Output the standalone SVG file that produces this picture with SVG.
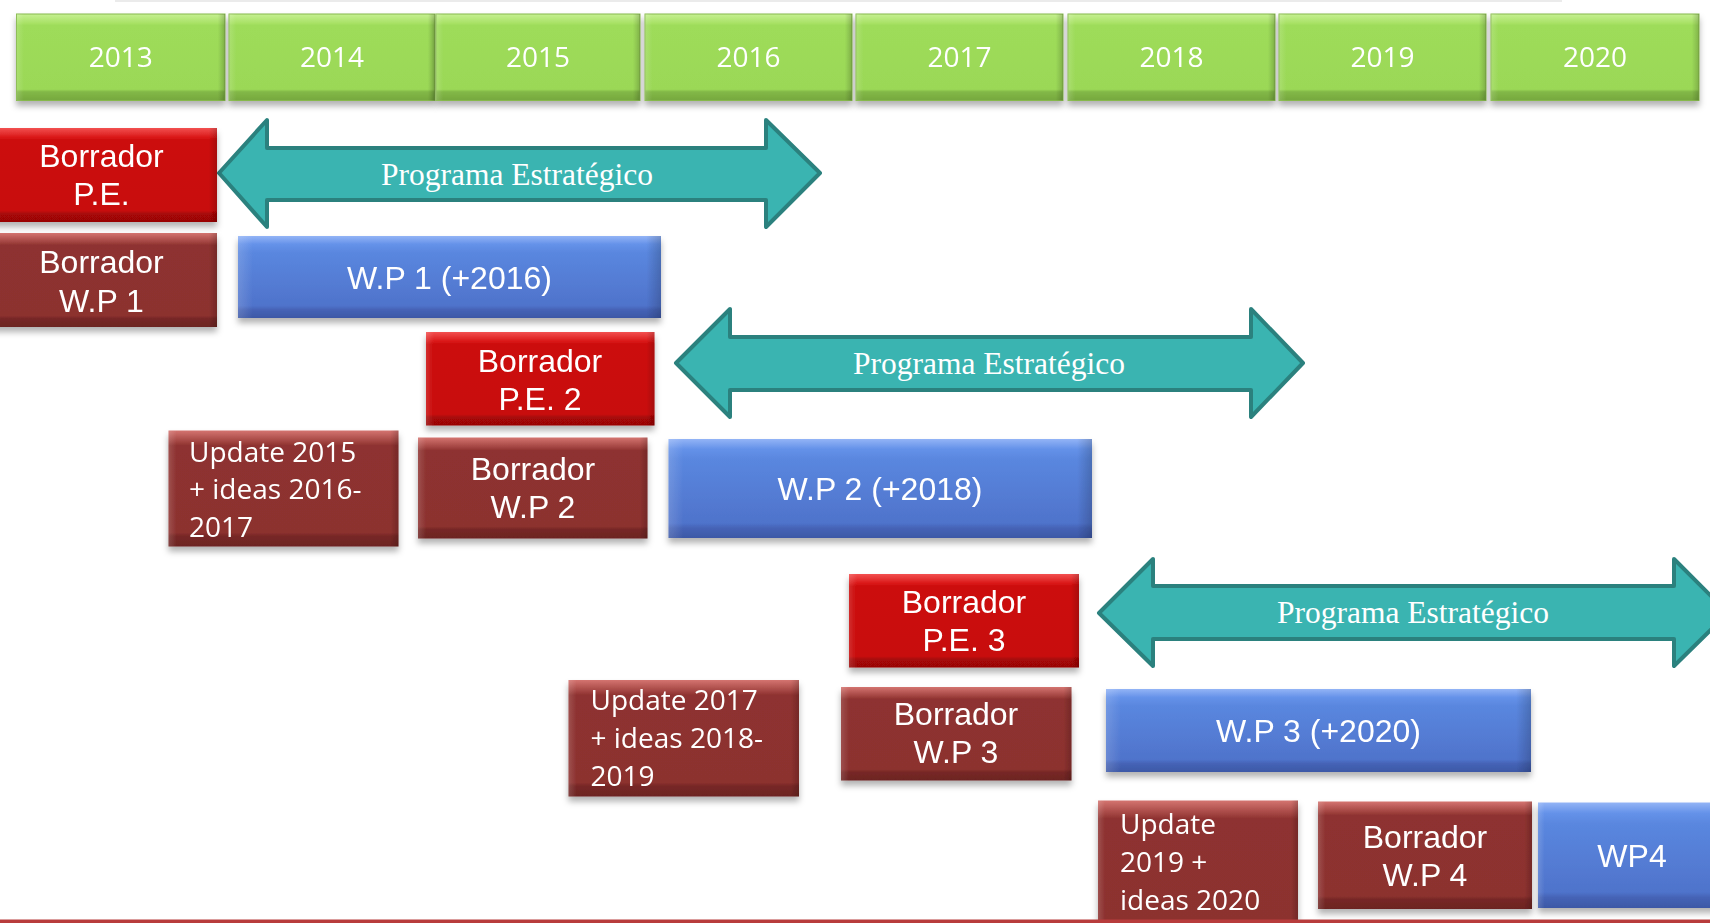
<svg xmlns="http://www.w3.org/2000/svg" width="1710" height="923" viewBox="0 0 1710 923">
<style>
.ar{font-family:"Liberation Sans",Arial,sans-serif;font-size:32px;fill:#fff;text-anchor:middle}
.cal{font-family:"Open Sans","Noto Sans",sans-serif;font-size:28px;fill:#fff}
.yr{text-anchor:middle}
.prog{font-family:"Liberation Serif","Times New Roman",serif;font-size:31.5px;fill:#fff;text-anchor:middle}
.green{fill:url(#gGreen);stroke:#86b84c;stroke-width:1}
.red{fill:url(#gRed)}
.dark{fill:url(#gDark)}
.blue{fill:url(#gBlue)}
.edge{fill:url(#hEdge)}
.arrow{fill:#3ab4b1;stroke:#2b817e;stroke-width:4;stroke-linejoin:round}
.box{filter:url(#sh)}
</style>
<defs>
<filter id="sh" x="-10%" y="-20%" width="120%" height="150%">
<feDropShadow dx="0" dy="5" stdDeviation="3" flood-color="#000" flood-opacity="0.3"/>
</filter>
<linearGradient id="gGreen" x1="0" y1="0" x2="0" y2="1">
<stop offset="0" stop-color="#c6f092"/><stop offset="0.11" stop-color="#a7e164"/><stop offset="0.13" stop-color="#9edc5a"/><stop offset="0.87" stop-color="#9bd857"/><stop offset="0.9" stop-color="#82b847"/><stop offset="1" stop-color="#76a83e"/>
</linearGradient>
<linearGradient id="gRed" x1="0" y1="0" x2="0" y2="1">
<stop offset="0" stop-color="#f25050"/><stop offset="0.1" stop-color="#da1818"/><stop offset="0.13" stop-color="#cc0909"/><stop offset="0.88" stop-color="#c80808"/><stop offset="0.91" stop-color="#a80707"/><stop offset="1" stop-color="#980606"/>
</linearGradient>
<linearGradient id="gDark" x1="0" y1="0" x2="0" y2="1">
<stop offset="0" stop-color="#d47470"/><stop offset="0.1" stop-color="#a0423f"/><stop offset="0.13" stop-color="#8e3230"/><stop offset="0.88" stop-color="#8c312f"/><stop offset="0.91" stop-color="#772826"/><stop offset="1" stop-color="#6c2422"/>
</linearGradient>
<linearGradient id="gBlue" x1="0" y1="0" x2="0" y2="1">
<stop offset="0" stop-color="#93b4f6"/><stop offset="0.1" stop-color="#6592e9"/><stop offset="0.2" stop-color="#5a87df"/><stop offset="0.85" stop-color="#4f73cb"/><stop offset="0.9" stop-color="#4563b6"/><stop offset="1" stop-color="#3c58a6"/>
</linearGradient>
<linearGradient id="hEdge" x1="0" y1="0" x2="1" y2="0">
<stop offset="0" stop-color="#fff" stop-opacity="0.15"/><stop offset="0.035" stop-color="#fff" stop-opacity="0"/><stop offset="0.965" stop-color="#000" stop-opacity="0"/><stop offset="1" stop-color="#000" stop-opacity="0.18"/>
</linearGradient>
</defs>
<rect width="1710" height="923" fill="#fff"/>
<line x1="115" y1="1" x2="1562" y2="1" stroke="#ebebeb" stroke-width="2"/>

<g id="years">
<g id="y2013" class="box"><rect class="green" x="16.5" y="14" width="208.5" height="86.5"/><rect class="edge" x="16.5" y="14" width="208.5" height="86.5"/><text class="cal yr" x="120.7" y="67">2013</text></g>
<g id="y2014" class="box"><rect class="green" x="229" y="14" width="206" height="86.5"/><rect class="edge" x="229" y="14" width="206" height="86.5"/><text class="cal yr" x="332" y="67">2014</text></g>
<g id="y2015" class="box"><rect class="green" x="436" y="14" width="204" height="86.5"/><rect class="edge" x="436" y="14" width="204" height="86.5"/><text class="cal yr" x="538" y="67">2015</text></g>
<g id="y2016" class="box"><rect class="green" x="645" y="14" width="207" height="86.5"/><rect class="edge" x="645" y="14" width="207" height="86.5"/><text class="cal yr" x="748.5" y="67">2016</text></g>
<g id="y2017" class="box"><rect class="green" x="856" y="14" width="207" height="86.5"/><rect class="edge" x="856" y="14" width="207" height="86.5"/><text class="cal yr" x="959.5" y="67">2017</text></g>
<g id="y2018" class="box"><rect class="green" x="1068" y="14" width="207" height="86.5"/><rect class="edge" x="1068" y="14" width="207" height="86.5"/><text class="cal yr" x="1171.5" y="67">2018</text></g>
<g id="y2019" class="box"><rect class="green" x="1279" y="14" width="207" height="86.5"/><rect class="edge" x="1279" y="14" width="207" height="86.5"/><text class="cal yr" x="1382.5" y="67">2019</text></g>
<g id="y2020" class="box"><rect class="green" x="1491" y="14" width="208" height="86.5"/><rect class="edge" x="1491" y="14" width="208" height="86.5"/><text class="cal yr" x="1595" y="67">2020</text></g>
</g>

<g id="arrow1"><path class="arrow" d="M219,173 L267,120 L267,148 L766,148 L766,120 L820,173 L766,227 L766,200 L267,200 L267,227 Z"/><text class="prog" x="517" y="185">Programa Estratégico</text></g>
<g id="arrow2"><path class="arrow" d="M676,363 L730,309 L730,337 L1251,337 L1251,309 L1303,363 L1251,417 L1251,390 L730,390 L730,417 Z"/><text class="prog" x="989" y="374">Programa Estratégico</text></g>
<g id="arrow3"><path class="arrow" d="M1099,613 L1153,559 L1153,586 L1674,586 L1674,559 L1728,613 L1674,666 L1674,639 L1153,639 L1153,666 Z"/><text class="prog" x="1413" y="623">Programa Estratégico</text></g>

<g id="borradorPE1" class="box"><rect class="red" x="-14" y="128" width="231" height="94"/><rect class="edge" x="-14" y="128" width="231" height="94"/><text class="ar" x="101.5" y="166.5">Borrador</text><text class="ar" x="101.5" y="205">P.E.</text></g>
<g id="borradorWP1" class="box"><rect class="dark" x="-14" y="233" width="231" height="94"/><rect class="edge" x="-14" y="233" width="231" height="94"/><text class="ar" x="101.5" y="273">Borrador</text><text class="ar" x="101.5" y="311.5">W.P 1</text></g>
<g id="wp1" class="box"><rect class="blue" x="238" y="236" width="423" height="82"/><rect class="edge" x="238" y="236" width="423" height="82"/><text class="ar" x="449.5" y="288.5">W.P 1 (+2016)</text></g>

<g id="borradorPE2" class="box"><rect class="red" x="426" y="332" width="228.5" height="93.5"/><rect class="edge" x="426" y="332" width="228.5" height="93.5"/><text class="ar" x="540" y="371.5">Borrador</text><text class="ar" x="540" y="409.5">P.E. 2</text></g>
<g id="update2015" class="box"><rect class="dark" x="168.5" y="430.5" width="230" height="116"/><rect class="edge" x="168.5" y="430.5" width="230" height="116"/><text class="cal" x="189" y="461.5">Update 2015</text><text class="cal" x="189" y="499">+ ideas 2016-</text><text class="cal" x="189" y="537">2017</text></g>
<g id="borradorWP2" class="box"><rect class="dark" x="418" y="437.5" width="229.5" height="101"/><rect class="edge" x="418" y="437.5" width="229.5" height="101"/><text class="ar" x="533" y="480">Borrador</text><text class="ar" x="533" y="518">W.P 2</text></g>
<g id="wp2" class="box"><rect class="blue" x="668.5" y="439" width="423.5" height="99"/><rect class="edge" x="668.5" y="439" width="423.5" height="99"/><text class="ar" x="880" y="500">W.P 2 (+2018)</text></g>

<g id="borradorPE3" class="box"><rect class="red" x="849" y="574" width="230" height="93.5"/><rect class="edge" x="849" y="574" width="230" height="93.5"/><text class="ar" x="964" y="613">Borrador</text><text class="ar" x="964" y="651">P.E. 3</text></g>
<g id="update2017" class="box"><rect class="dark" x="568.5" y="680" width="230.5" height="116.5"/><rect class="edge" x="568.5" y="680" width="230.5" height="116.5"/><text class="cal" x="590.5" y="710">Update 2017</text><text class="cal" x="590.5" y="748">+ ideas 2018-</text><text class="cal" x="590.5" y="786">2019</text></g>
<g id="borradorWP3" class="box"><rect class="dark" x="841" y="687" width="230.5" height="93.5"/><rect class="edge" x="841" y="687" width="230.5" height="93.5"/><text class="ar" x="956" y="725">Borrador</text><text class="ar" x="956" y="763">W.P 3</text></g>
<g id="wp3" class="box"><rect class="blue" x="1106" y="689" width="425" height="83"/><rect class="edge" x="1106" y="689" width="425" height="83"/><text class="ar" x="1318.5" y="742">W.P 3 (+2020)</text></g>

<g id="update2019" class="box"><rect class="dark" x="1098" y="800.5" width="200" height="140"/><rect class="edge" x="1098" y="800.5" width="200" height="140"/><text class="cal" x="1120" y="834">Update</text><text class="cal" x="1120" y="872">2019 +</text><text class="cal" x="1120" y="910">ideas 2020</text></g>
<g id="borradorWP4" class="box"><rect class="dark" x="1318" y="801.5" width="214" height="107.5"/><rect class="edge" x="1318" y="801.5" width="214" height="107.5"/><text class="ar" x="1425" y="848">Borrador</text><text class="ar" x="1425" y="886">W.P 4</text></g>
<g id="wp4" class="box"><rect class="blue" x="1538" y="802.5" width="190" height="105.5"/><rect class="edge" x="1538" y="802.5" width="190" height="105.5"/><text class="ar" x="1632" y="867">WP4</text></g>

<rect x="0" y="919.5" width="1710" height="3.5" fill="#b83c3c"/>
</svg>
